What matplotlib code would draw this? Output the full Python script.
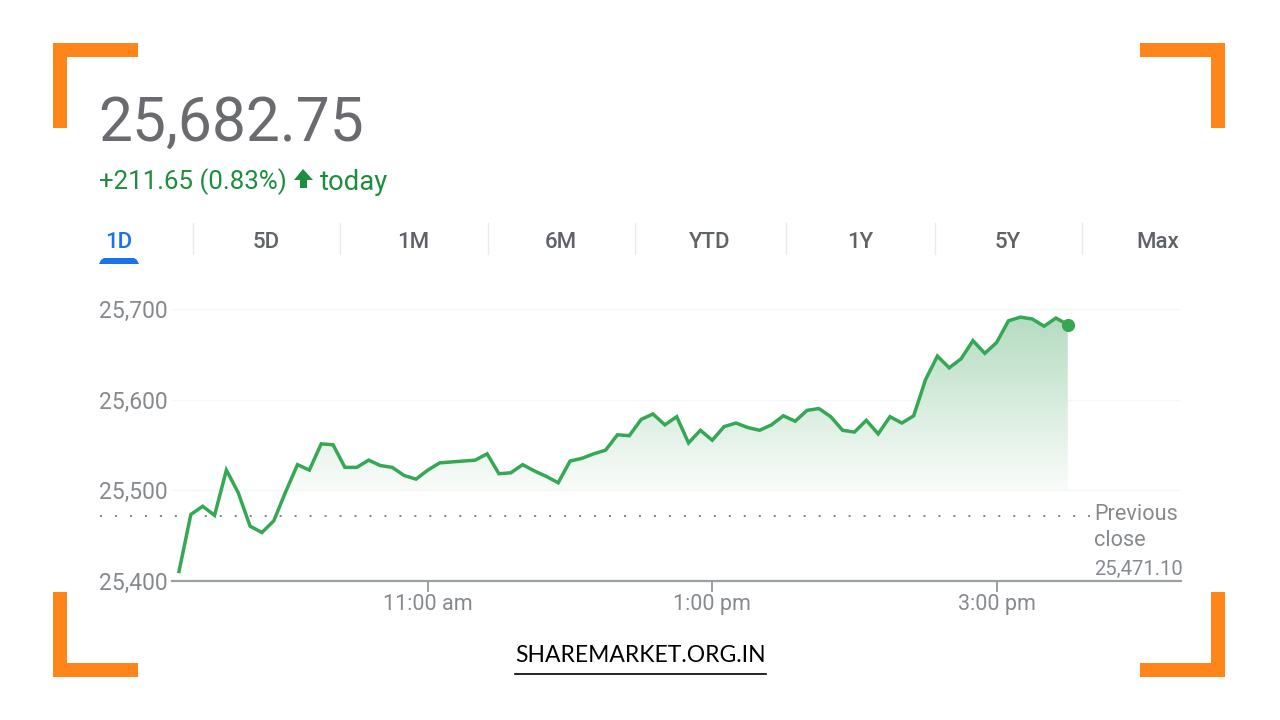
import matplotlib
matplotlib.use("Agg")
import matplotlib.pyplot as plt
import numpy as np
from matplotlib.colors import LinearSegmentedColormap
from matplotlib.patches import Rectangle, Polygon

# minutes since midnight, 5 min candles from 9:15 to 15:30
minutes = [555, 560, 565, 570, 575, 580, 585, 590, 595, 600, 605, 610, 615, 620, 625, 630,
           635, 640, 645, 650, 655, 660, 665, 670, 675, 680, 685, 690, 695, 700, 705, 710,
           715, 720, 725, 730, 735, 740, 745, 750, 755, 760, 765, 770, 775, 780, 785, 790,
           795, 800, 805, 810, 815, 820, 825, 830, 835, 840, 845, 850, 855, 860, 865, 870,
           875, 880, 885, 890, 895, 900, 905, 910, 915, 920, 925, 930]
prices = [25410, 25473, 25482, 25472, 25522, 25497, 25460, 25453, 25466, 25498, 25528, 25522,
          25551, 25550, 25525, 25525, 25533, 25527, 25525, 25516, 25512, 25522, 25530, 25531,
          25532, 25533, 25540, 25518, 25519, 25528, 25521, 25515, 25508, 25532, 25535, 25540,
          25544, 25561, 25560, 25578, 25584, 25572, 25581, 25552, 25566, 25555, 25570, 25574,
          25569, 25566, 25572, 25582, 25576, 25588, 25590, 25581, 25566, 25564, 25577, 25562,
          25581, 25574, 25582, 25622, 25648, 25635, 25645, 25665, 25651, 25663, 25687, 25691,
          25689, 25681, 25690, 25682.75]
prev_close = 25471.10
y_ticks = [25400, 25500, 25600, 25700]
y_labels = ["25,400", "25,500", "25,600", "25,700"]
x_ticks = [660, 780, 900]
x_labels = ["11:00 am", "1:00 pm", "3:00 pm"]
tabs = ["1D", "5D", "1M", "6M", "YTD", "1Y", "5Y", "Max"]

W, H = 1280, 720
GREEN_LINE = "#34a853"
GREEN_TEXT = "#1e8e3e"
GREY = "#868a8f"
plt.rcParams["font.family"] = ["Roboto", "DejaVu Sans"]

fig = plt.figure(figsize=(12.8, 7.2), dpi=100, facecolor="white")

# pixel overlay for the page furniture
bg = fig.add_axes([0, 0, 1, 1])
bg.set_xlim(0, W)
bg.set_ylim(H, 0)
bg.axis("off")

ORANGE = "#ff851b"
for x0, x1, y0, y1, sx, sy in [(53, 138, 43, 128, 1, 1), (1225, 1140, 43, 128, -1, 1),
                               (53, 138, 677, 592, 1, -1), (1225, 1140, 677, 592, -1, -1)]:
    bg.add_patch(Rectangle((x0, y0), x1 - x0, 14 * sy, color=ORANGE, lw=0))
    bg.add_patch(Rectangle((x0, y0), 14 * sx, y1 - y0, color=ORANGE, lw=0))

bg.text(98, 124, "25,682.75", fontsize=43.6, color="#6a6b6e", va="center", ha="left")
bg.text(99, 182, "+211.65 (0.83%)", fontsize=18.6, color=GREEN_TEXT, va="center", ha="left")
bg.text(320, 182, "today", fontsize=19.8, color=GREEN_TEXT, va="center", ha="left")
bg.add_patch(Polygon([(303, 169), (313, 180), (307, 180), (307, 188), (300, 188),
                      (300, 180), (294, 180)], color=GREEN_TEXT, lw=0))

tab_x = [119, 266, 413, 561, 710, 860, 1008, 1158]
for name, x in zip(tabs, tab_x):
    bg.text(x, 242, name, fontsize=16, fontweight="medium", ha="center", va="center",
            color="#1a73e8" if name == "1D" else "#5f6368")
for x in [193, 340, 488, 635, 786, 935, 1082]:
    bg.plot([x, x], [223, 254], color="#e8eaed", lw=1)
bg.add_patch(Polygon([(99, 264), (101, 260), (104, 258), (134, 258), (137, 260), (139, 264)],
                     color="#1a73e8", lw=0))

bg.text(640.5, 655, "SHAREMARKET.ORG.IN", fontsize=16.5, family="Lato", color="black",
        ha="center", va="center")
bg.plot([515, 766], [674, 674], color="black", lw=1.2)

# chart
px_per_min = 2.37
left = 555 - (179 - 172) / px_per_min
right = 555 + (1181 - 179) / px_per_min
ax = fig.add_axes([172 / W, 1 - 580.5 / H, (1181 - 172) / W, (580.5 - 300) / H])
ax.patch.set_alpha(0)

cmap = LinearSegmentedColormap.from_list("fade", ["#fafcfa", "#b5dcc1"])
grad = np.linspace(1, 0, 256).reshape(-1, 1)
im = ax.imshow(grad, extent=[minutes[0], minutes[-1], 25500, max(prices)], aspect="auto",
               cmap=cmap, zorder=1)
clip = Polygon(list(zip(minutes, prices)) + [(minutes[-1], 25400), (minutes[0], 25400)],
               transform=ax.transData, fill=False, lw=0)
ax.add_patch(clip)
im.set_clip_path(clip)

ax.axhline(25500, color="#f5f6f7", lw=1, zorder=2)
ax.axhline(25600, color="#f5f6f7", lw=1, zorder=0)
ax.axhline(25700, color="#f5f6f7", lw=1, zorder=0)

ax.plot(minutes, prices, color=GREEN_LINE, lw=2.5, solid_joinstyle="miter", zorder=4)
ax.plot(minutes[-1], prices[-1], "o", color=GREEN_LINE, ms=9.5, mew=0, zorder=5)

# dotted previous close runs out past the axis on the left
ax.plot([521.5, 930 + 9.5], [prev_close, prev_close], color="#7d8185", lw=1.4,
        linestyle=(0, (1, 6.7)), clip_on=False, zorder=3)

ax.set_xlim(left, right)
ax.set_ylim(25400, 25400 + (580.5 - 300) / 0.905)
ax.set_yticks(y_ticks, y_labels)
ax.set_xticks(x_ticks, x_labels)
ax.tick_params(axis="y", length=0, pad=3, labelsize=16.5, labelcolor=GREY)
ax.tick_params(axis="x", length=8, width=1.4, color="#9aa0a6", pad=2, labelsize=15.5, labelcolor=GREY)
for s in ["top", "left", "right"]:
    ax.spines[s].set_visible(False)
ax.spines["bottom"].set_color("#9aa0a6")
ax.spines["bottom"].set_linewidth(1.6)

for txt, y, fs in [("Previous", 514, 15.6), ("close", 541, 15.6), ("25,471.10", 569, 14.6)]:
    bg.text(1094, y, txt, fontsize=fs, color=GREY, ha="left", va="center")

fig.savefig("out.png", dpi=100)
